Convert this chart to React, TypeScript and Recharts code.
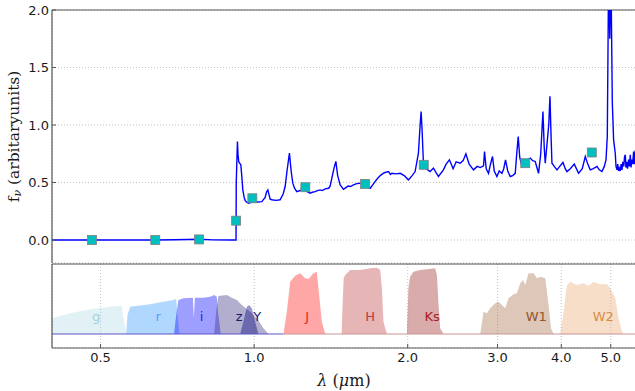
import React from 'react';
import {
  ComposedChart,
  Line,
  Scatter,
  Area,
  XAxis,
  YAxis,
  CartesianGrid,
  ReferenceLine,
} from 'recharts';

// ---------- spectrum (wavelength in micron, flux in arbitrary units) ----------
const SPEC_WAVE = [
  0.40, 0.48, 0.64, 0.70, 0.78, 0.83, 0.90, 0.9215, 0.9225, 0.9274,
  0.9300, 0.9330, 0.9358, 0.9417, 0.9460, 0.9502, 0.9560, 0.9602, 0.9660, 0.9746,
  0.9850, 0.9968, 1.0136, 1.0354, 1.0509, 1.0580, 1.0638, 1.0700, 1.0750, 1.0832,
  1.1044, 1.1244, 1.1400, 1.1502, 1.1600, 1.1727, 1.1817, 1.1908, 1.2000, 1.2125,
  1.2308, 1.2493, 1.2703, 1.2876, 1.3000, 1.3170, 1.3300, 1.3471, 1.3600, 1.3779,
  1.4000, 1.4094, 1.4266, 1.4370, 1.4461, 1.4579, 1.4745, 1.4967, 1.5130, 1.5288,
  1.5450, 1.5658, 1.5887, 1.6140, 1.6300, 1.6509, 1.6700, 1.6886, 1.7080, 1.7271,
  1.7470, 1.7666, 1.7988, 1.8341, 1.8500, 1.8621, 1.8986, 1.9332, 1.9685, 2.0063,
  2.0401, 2.0680, 2.0990, 2.1152, 2.1247, 2.1343, 2.1469, 2.1732, 2.2129, 2.2461,
  2.2974, 2.3498, 2.3786, 2.4143, 2.4550, 2.4886, 2.5340, 2.5686, 2.6002, 2.6393,
  2.6915, 2.7368, 2.7743, 2.8159, 2.8287, 2.8505, 2.8802, 2.9024, 2.9327, 2.9553,
  2.9915, 3.0228, 3.0599, 3.0848, 3.1100, 3.1411, 3.1767, 3.2127, 3.2492, 3.2713,
  3.2935, 3.3158, 3.3489, 3.3992, 3.4378, 3.4769, 3.5163, 3.5562, 3.6096, 3.6456,
  3.6821, 3.7038, 3.7206, 3.7594, 3.7798, 3.8004, 3.8228, 3.8349, 3.8750, 3.9225,
  3.9724, 4.0302, 4.0723, 4.1037, 4.1653, 4.2412, 4.3245, 4.3974, 4.4574, 4.5080,
  4.5591, 4.6213, 4.6993, 4.7484, 4.8066, 4.8568, 4.8943, 4.9231, 4.9521, 4.9790,
  5.0060, 5.0355, 5.0652, 5.1042, 5.1200, 5.1436, 5.1600, 5.1800, 5.1972, 5.2200,
  5.2400, 5.2609, 5.2800, 5.3037, 5.3200, 5.3399, 5.3550, 5.3762, 5.3950, 5.4200,
  5.4400, 5.4618, 5.4800, 5.4990, 5.5200, 5.5438, 5.5600, 5.5865, 5.6100,
];
const SPEC_FLUX = [
  0, 0, 0, 0.002, 0.006, 0.001, 0, 0, 0.50, 0.857,
  0.74, 0.68, 0.67, 0.654, 0.55, 0.436, 0.37, 0.345, 0.33, 0.32,
  0.325, 0.334, 0.33, 0.334, 0.37, 0.42, 0.436, 0.39, 0.355, 0.35,
  0.345, 0.35, 0.40, 0.465, 0.60, 0.755, 0.60, 0.494, 0.45, 0.421,
  0.43, 0.436, 0.42, 0.407, 0.415, 0.42, 0.43, 0.436, 0.43, 0.445,
  0.45, 0.47, 0.58, 0.64, 0.683, 0.56, 0.479, 0.44, 0.455, 0.47,
  0.465, 0.479, 0.49, 0.494, 0.485, 0.47, 0.46, 0.45, 0.48, 0.51,
  0.537, 0.56, 0.585, 0.595, 0.57, 0.58, 0.575, 0.58, 0.56, 0.523,
  0.56, 0.595, 0.755, 1.0, 1.117, 0.95, 0.668, 0.62, 0.595, 0.625,
  0.552, 0.61, 0.66, 0.697, 0.62, 0.68, 0.668, 0.69, 0.749, 0.66,
  0.61, 0.64, 0.63, 0.645, 0.77, 0.62, 0.58, 0.65, 0.726, 0.60,
  0.552, 0.60, 0.58, 0.62, 0.697, 0.60, 0.552, 0.56, 0.58, 0.75,
  0.90, 0.72, 0.639, 0.668, 0.70, 0.712, 0.69, 0.683, 0.58, 0.75,
  1.118, 0.80, 0.668, 0.886, 1.00, 1.249, 0.85, 0.668, 0.64, 0.61,
  0.64, 0.674, 0.62, 0.595, 0.62, 0.66, 0.58, 0.62, 0.726, 0.66,
  0.61, 0.62, 0.639, 0.61, 0.595, 0.64, 0.697, 0.90, 2.30, 1.75,
  2.30, 1.20, 0.871, 0.75, 0.64, 0.61, 0.66, 0.60, 0.625, 0.60,
  0.66, 0.61, 0.68, 0.64, 0.72, 0.741, 0.63, 0.68, 0.62, 0.70,
  0.64, 0.74, 0.63, 0.70, 0.66, 0.77, 0.66, 0.78, 0.70,
];

// ---------- broad-band photometry ----------
const PHOT_BANDS = ['g', 'r', 'i', 'z', 'Y', 'J', 'H', 'Ks', 'W1', 'W2'];
const PHOT_WAVE = [0.481, 0.640, 0.780, 0.922, 0.992, 1.26, 1.65, 2.15, 3.40, 4.59];
const PHOT_FLUX = [0, 0, 0.005, 0.168, 0.363, 0.459, 0.488, 0.654, 0.668, 0.761];

// ---------- filter transmission curves ----------
const G_WAVE = [0.38, 0.395, 0.4356, 0.4770, 0.5221, 0.5502, 0.5560, 0.5628];
const G_TRANS = [0, 0.21, 0.295, 0.352, 0.39, 0.405, 0.176, 0];
const R_WAVE = [0.5613, 0.5646, 0.5714, 0.6253, 0.6640, 0.6948, 0.7034, 0.7075, 0.7139];
const R_TRANS = [0, 0.271, 0.39, 0.424, 0.462, 0.486, 0.50, 0.271, 0];
const I_WAVE = [0.6966, 0.7034, 0.7105, 0.7268, 0.7584, 0.7619, 0.7653, 0.7955, 0.8197, 0.8347, 0.8449, 0.8511, 0.8603];
const I_TRANS = [0, 0.27, 0.486, 0.51, 0.519, 0.224, 0.519, 0.519, 0.533, 0.557, 0.533, 0.271, 0];
const Z_WAVE = [0.8347, 0.8424, 0.8511, 0.8843, 0.9043, 0.9249, 0.9460, 0.9821, 1.0123, 1.0429, 1.0666];
const Z_TRANS = [0, 0.319, 0.543, 0.557, 0.519, 0.486, 0.414, 0.319, 0.224, 0.081, 0];
const Y_WAVE = [0.9388, 0.9528, 0.9676, 0.9777, 0.9897, 1.0045, 1.0196];
const Y_TRANS = [0, 0.176, 0.39, 0.414, 0.367, 0.176, 0];
const J_WAVE = [1.1415, 1.1591, 1.1766, 1.2034, 1.2308, 1.2589, 1.2782, 1.3070, 1.3270, 1.3368, 1.3574, 1.3779];
const J_TRANS = [0, 0.319, 0.748, 0.833, 0.867, 0.795, 0.786, 0.867, 0.89, 0.652, 0.176, 0];
const H_WAVE = [1.4845, 1.4883, 1.4981, 1.5082, 1.5425, 1.6140, 1.6886, 1.7405, 1.7666, 1.7800, 1.7928, 1.8204];
const H_TRANS = [0, 0.30, 0.80, 0.843, 0.914, 0.914, 0.938, 0.948, 0.914, 0.652, 0.176, 0];
const KS_WAVE = [1.9928, 2.0063, 2.0221, 2.0527, 2.1152, 2.1812, 2.2644, 2.2818, 2.2986, 2.3159, 2.3498];
const KS_TRANS = [0, 0.652, 0.819, 0.89, 0.914, 0.924, 0.938, 0.843, 0.414, 0.081, 0];
const W1_WAVE = [2.40, 2.7743, 2.8159, 2.8593, 2.9024, 2.9690, 3.0131, 3.0599, 3.1062, 3.1525, 3.2247, 3.2747, 3.3241, 3.3649, 3.3992, 3.4502, 3.5289, 3.5835, 3.6376, 3.7206, 3.7767, 3.8180, 3.8634];
const W1_TRANS = [0, 0, 0.319, 0.295, 0.367, 0.438, 0.462, 0.414, 0.367, 0.51, 0.567, 0.581, 0.724, 0.771, 0.70, 0.867, 0.867, 0.795, 0.819, 0.795, 0.414, 0.081, 0];
const W2_WAVE = [3.9811, 4.0416, 4.1037, 4.1653, 4.2933, 4.4227, 4.5236, 4.6268, 4.7686, 4.9155, 4.9888, 5.1042, 5.1794, 5.2609, 5.2990];
const W2_TRANS = [0, 0.319, 0.70, 0.748, 0.70, 0.724, 0.69, 0.748, 0.71, 0.71, 0.652, 0.51, 0.224, 0.033, 0];

// where each filter name is written (wavelength, micron)
const LABEL_WAVE = [0.490, 0.6482, 0.789, 0.9345, 1.0136, 1.2703, 1.6886, 2.2336, 3.5722, 4.8346];

// ---------- axes ----------
const X_MIN = 0.4016;
const X_MAX = 5.604;
const X_TICKS = [0.5, 1, 2, 3, 4, 5];
const Y_TICKS_TOP = [0, 0.5, 1, 1.5, 2];
const Y_TICKS_BOTTOM = [0, 0.2, 0.4, 0.6, 0.8];

// ---------- styles ----------
const FILTER_STYLE: Record<string, { fill: string; opacity: number; text: string }> = {
  g: { fill: '#add8e6', opacity: 0.35, text: '#9fd3df' },
  r: { fill: '#1e90ff', opacity: 0.35, text: '#4da3ff' },
  i: { fill: '#0000ff', opacity: 0.38, text: '#2626d6' },
  z: { fill: '#483d8b', opacity: 0.42, text: '#191970' },
  Y: { fill: '#000080', opacity: 0.4, text: '#191970' },
  J: { fill: '#ff0000', opacity: 0.35, text: '#f01c1c' },
  H: { fill: '#b22222', opacity: 0.33, text: '#c0393b' },
  Ks: { fill: '#8b0000', opacity: 0.33, text: '#a52020' },
  W1: { fill: '#8b4513', opacity: 0.3, text: '#96542a' },
  W2: { fill: '#e8a060', opacity: 0.35, text: '#d98c45' },
};

const FILTER_CURVES: Record<string, [number[], number[]]> = {
  g: [G_WAVE, G_TRANS],
  r: [R_WAVE, R_TRANS],
  i: [I_WAVE, I_TRANS],
  z: [Z_WAVE, Z_TRANS],
  Y: [Y_WAVE, Y_TRANS],
  J: [J_WAVE, J_TRANS],
  H: [H_WAVE, H_TRANS],
  Ks: [KS_WAVE, KS_TRANS],
  W1: [W1_WAVE, W1_TRANS],
  W2: [W2_WAVE, W2_TRANS],
};

const SPINE = '#555555';
const GRID = '#b4b4b4';
const TICK_FONT = { fontSize: 13, fill: '#1a1a1a', fontFamily: 'DejaVu Sans' };

const spectrum = SPEC_WAVE.map((w, i) => ({ w, f: SPEC_FLUX[i] }));
const photometry = PHOT_WAVE.map((w, i) => ({ w, f: PHOT_FLUX[i], band: PHOT_BANDS[i] }));
const filterSeries = PHOT_BANDS.map((name) => {
  const [wave, trans] = FILTER_CURVES[name];
  return { name, data: wave.map((w, i) => ({ w, t: trans[i] })) };
});
const filterLabels = PHOT_BANDS.map((name, i) => ({ w: LABEL_WAVE[i], t: 0.257, name }));

const fmt = (v: number) => v.toFixed(1);

const PhotSquare = (props: any) => {
  const { cx, cy } = props;
  if (cx == null || cy == null) return null;
  return (
    <rect x={cx - 4.5} y={cy - 4.5} width={9} height={9} fill="#00bfbf" stroke="#808080" strokeWidth={0.8} />
  );
};

const FilterName = (props: any) => {
  const { cx, cy, payload } = props;
  if (cx == null || cy == null) return null;
  return (
    <text
      x={cx}
      y={cy}
      textAnchor="middle"
      dominantBaseline="central"
      fontFamily="DejaVu Sans"
      fontSize={13}
      fill={FILTER_STYLE[payload.name].text}
    >
      {payload.name}
    </text>
  );
};

const YTitle = (props: any) => {
  const vb = props.viewBox || {};
  const x = 14;
  const y = (vb.y ?? 10) + (vb.height ?? 253) / 2;
  return (
    <text
      x={x}
      y={y}
      transform={`rotate(-90, ${x}, ${y})`}
      textAnchor="middle"
      dominantBaseline="central"
      fontFamily="DejaVu Serif"
      fontSize={15.5}
      fill="#1a1a1a"
    >
      f
      <tspan dy={3} fontSize={11} fontStyle="italic">ν</tspan>
      <tspan dy={-3}> (arbitaryunits)</tspan>
    </text>
  );
};

const XTitle = (props: any) => {
  const vb = props.viewBox || {};
  const x = (vb.x ?? 52) + (vb.width ?? 584) / 2;
  const y = (vb.y ?? 94) + 38;
  return (
    <text x={x} y={y} textAnchor="middle" fontFamily="DejaVu Serif" fontSize={16} fill="#1a1a1a">
      <tspan fontStyle="italic">λ</tspan>
      <tspan> (</tspan>
      <tspan fontStyle="italic">μ</tspan>
      <tspan>m)</tspan>
    </text>
  );
};

export default function App() {
  return (
    <div
      style={{
        position: 'absolute',
        left: 0,
        top: 0,
        width: 635,
        height: 391,
        overflow: 'hidden',
        background: '#ffffff',
      }}
    >
      {/* spectrum panel */}
      <div style={{ position: 'absolute', left: 0, top: 0 }}>
        <ComposedChart width={640} height={264} margin={{ top: 10, right: 4, bottom: 1, left: 0 }}>
          <CartesianGrid stroke={GRID} strokeDasharray="1 2" strokeWidth={0.8} />
          <XAxis
            dataKey="w"
            type="number"
            scale="log"
            domain={[X_MIN, X_MAX]}
            allowDataOverflow
            ticks={X_TICKS}
            interval={0}
            height={0}
            tick={false}
            tickLine={false}
            axisLine={false}
          />
          <YAxis
            dataKey="f"
            type="number"
            domain={[-0.2, 2]}
            allowDataOverflow
            ticks={Y_TICKS_TOP}
            interval={0}
            width={52}
            tickFormatter={fmt}
            tickSize={-4}
            tickMargin={7}
            tick={TICK_FONT}
            axisLine={{ stroke: SPINE, strokeWidth: 1.2 }}
            tickLine={{ stroke: SPINE }}
            label={{ content: YTitle }}
          />
          <ReferenceLine y={2} stroke={SPINE} strokeWidth={1.2} />
          <Line
            data={spectrum}
            dataKey="f"
            type="linear"
            stroke="#0000ff"
            strokeWidth={1.4}
            dot={false}
            activeDot={false}
            isAnimationActive={false}
          />
          <Scatter data={photometry} dataKey="f" shape={PhotSquare} isAnimationActive={false} />
        </ComposedChart>
      </div>

      {/* filter transmission panel */}
      <div style={{ position: 'absolute', left: 0, top: 254 }}>
        <ComposedChart width={640} height={137} margin={{ top: 10, right: 4, bottom: 13, left: 0 }}>
          <CartesianGrid stroke={GRID} strokeDasharray="1 2" strokeWidth={0.8} />
          <XAxis
            dataKey="w"
            type="number"
            scale="log"
            domain={[X_MIN, X_MAX]}
            allowDataOverflow
            ticks={X_TICKS}
            interval={0}
            height={30}
            tickFormatter={fmt}
            tickSize={-4}
            tickMargin={9}
            tick={TICK_FONT}
            axisLine={{ stroke: SPINE, strokeWidth: 1.2 }}
            tickLine={{ stroke: SPINE }}
            label={{ content: XTitle }}
          />
          <YAxis
            dataKey="t"
            type="number"
            domain={[-0.2, 1]}
            allowDataOverflow
            ticks={Y_TICKS_BOTTOM}
            interval={0}
            width={52}
            tick={false}
            tickSize={-4}
            axisLine={{ stroke: SPINE, strokeWidth: 1.2 }}
            tickLine={{ stroke: SPINE }}
          />
          {filterSeries.map((s) => (
            <Area
              key={s.name}
              data={s.data}
              dataKey="t"
              type="linear"
              baseValue={0}
              fill={FILTER_STYLE[s.name].fill}
              fillOpacity={FILTER_STYLE[s.name].opacity}
              stroke="none"
              dot={false}
              activeDot={false}
              isAnimationActive={false}
            />
          ))}
          <ReferenceLine
            segment={[{ x: X_MIN, y: 0 }, { x: 1.1415, y: 0 }]}
            stroke="#5a55c8"
            strokeWidth={1}
          />
          <ReferenceLine
            segment={[{ x: 1.1415, y: 0 }, { x: X_MAX, y: 0 }]}
            stroke="#c99494"
            strokeWidth={1}
          />
          <ReferenceLine y={1} stroke={SPINE} strokeWidth={1.2} />
          <Scatter data={filterLabels} dataKey="t" shape={FilterName} isAnimationActive={false} />
        </ComposedChart>
      </div>
    </div>
  );
}
